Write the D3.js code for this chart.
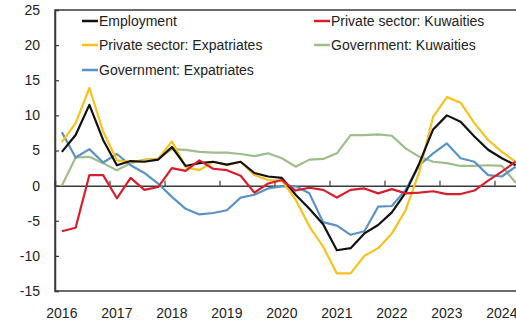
<!DOCTYPE html>
<html>
<head>
<meta charset="utf-8">
<script src="https://cdn.jsdelivr.net/npm/d3@7"></script>
<style>
  html, body { margin: 0; padding: 0; background: #fff; }
  svg { display: block; font-family: "Liberation Sans", Arial, sans-serif; }
</style>
</head>
<body>
<svg id="chart" width="516" height="322"></svg>
<script>
// Quarterly year-on-year growth, % (2016 Q1 – 2024 Q2)
const quarters = d3.range(34).map(i => `${2016 + Math.floor(i / 4)}Q${(i % 4) + 1}`);
const yearLabels = ["2016", "2017", "2018", "2019", "2020", "2021", "2022", "2023", "2024"];
const yTicks = [-15, -10, -5, 0, 5, 10, 15, 20, 25];

const employment = [4.8, 7.2, 11.5, 6.5, 2.9, 3.5, 3.4, 3.7, 5.5, 2.8, 3.2, 3.4, 3.0, 3.4, 1.8, 1.3, 1.1, -1.3, -3.3, -5.5, -9.2, -8.9, -6.8, -5.6, -3.8, -1.0, 3.2, 8.0, 10.0, 9.1, 7.0, 5.1, 3.9, 2.9];
const privateKuwaitis = [-6.5, -6.0, 1.5, 1.5, -1.8, 1.1, -0.6, -0.2, 2.5, 2.1, 3.6, 2.4, 2.2, 1.4, -1.0, 0.3, 0.8, -0.7, -0.3, -0.6, -1.7, -0.6, -0.4, -1.1, -0.5, -1.1, -1.0, -0.8, -1.2, -1.2, -0.7, 0.7, 2.0, 3.4];
const privateExpatriates = [6.2, 8.9, 13.9, 7.7, 3.6, 3.4, 3.6, 3.8, 6.3, 2.6, 2.2, 3.4, 2.9, 3.4, 1.5, 0.8, 0.7, -2.0, -5.8, -8.7, -12.5, -12.5, -10.0, -8.9, -6.8, -3.5, 2.0, 9.8, 12.6, 11.8, 8.9, 6.5, 4.8, 3.4];
const governmentKuwaitis = [0.0, 4.0, 4.1, 3.2, 2.2, 3.2, 3.7, 3.8, 5.2, 5.1, 4.8, 4.7, 4.7, 4.5, 4.2, 4.6, 3.9, 2.7, 3.7, 3.8, 4.6, 7.2, 7.2, 7.3, 7.1, 5.3, 4.1, 3.4, 3.2, 2.8, 2.8, 2.9, 2.8, 0.4];
const governmentExpatriates = [7.6, 4.0, 5.2, 3.3, 4.5, 2.9, 1.8, 0.3, -1.6, -3.3, -4.1, -3.9, -3.5, -1.7, -1.3, -0.4, -0.1, -0.1, -1.1, -5.2, -5.7, -7.0, -6.5, -3.0, -2.9, -0.6, 2.9, 4.6, 6.0, 3.9, 3.4, 1.5, 1.3, 2.7];

const series = [
  { name: "Employment", values: employment, color: "#111111" },
  { name: "Private sector: Kuwaities", values: privateKuwaitis, color: "#d81e2c" },
  { name: "Private sector: Expatriates", values: privateExpatriates, color: "#f6c21c" },
  { name: "Government: Kuwaities", values: governmentKuwaitis, color: "#9dbd8a" },
  { name: "Government: Expatriates", values: governmentExpatriates, color: "#5b92c6" }
];
// drawing order (back to front)
const drawOrder = ["Government: Kuwaities", "Government: Expatriates", "Private sector: Expatriates", "Employment", "Private sector: Kuwaities"];

(function draw() {
  const svg = d3.select("#chart");
  const plotLeft = 55, plotTop = 10, plotBottom = 291;
  const plotRight = plotLeft + 13.75 * quarters.length;

  const x = d3.scaleBand().domain(quarters).range([plotLeft, plotRight]);
  const y = d3.scaleLinear().domain([-15, 25]).range([plotBottom, plotTop]);
  const cx = q => x(q) + x.bandwidth() / 2;

  const axisColor = "#3a3a3a";

  // frame
  svg.append("rect")
    .attr("x", plotLeft).attr("y", plotTop)
    .attr("width", plotRight - plotLeft).attr("height", plotBottom - plotTop)
    .attr("fill", "none").attr("stroke", axisColor).attr("stroke-width", 1.5);

  // left value axis, ticks pointing inward
  const yAxis = svg.append("g")
    .attr("transform", `translate(${plotLeft},0)`)
    .call(d3.axisRight(y).tickValues(yTicks).tickSize(4).tickFormat(""));
  yAxis.select(".domain").attr("stroke", axisColor).attr("stroke-width", 1.5);
  yAxis.selectAll(".tick line").attr("stroke", axisColor).attr("stroke-width", 1.2);

  svg.append("g").selectAll("text")
    .data(yTicks).join("text")
    .attr("x", 40).attr("y", d => y(d))
    .attr("dy", "0.35em")
    .attr("text-anchor", "end")
    .attr("font-size", 14).attr("fill", "#222")
    .text(d => d);

  // zero line with year boundary ticks
  const yearStarts = quarters.filter((q, i) => i % 4 === 0);
  const zeroAxis = svg.append("g")
    .attr("transform", `translate(0,${y(0)})`)
    .call(d3.axisTop(x).tickValues(yearStarts).tickSize(5).tickFormat(""));
  zeroAxis.select(".domain").attr("stroke", axisColor).attr("stroke-width", 1.5);
  zeroAxis.selectAll(".tick").attr("transform", d => `translate(${x(d)},0)`);
  zeroAxis.selectAll(".tick line").attr("stroke", axisColor).attr("stroke-width", 1.2);

  // year labels under the plot
  svg.append("g").selectAll("text")
    .data(yearLabels).join("text")
    .attr("x", (d, i) => cx(quarters[i * 4]))
    .attr("y", 313)
    .attr("dy", "0.35em")
    .attr("text-anchor", "middle")
    .attr("font-size", 14).attr("fill", "#222")
    .text(d => d);

  // series lines
  const line = d3.line()
    .x((d, i) => cx(quarters[i]))
    .y(d => y(d));

  const byName = new Map(series.map(s => [s.name, s]));
  svg.append("g").selectAll("path")
    .data(drawOrder.map(n => byName.get(n))).join("path")
    .attr("d", s => line(s.values))
    .attr("fill", "none")
    .attr("stroke", s => s.color)
    .attr("stroke-width", 2.2)
    .attr("stroke-linejoin", "round");

  // legend
  const legendItems = [
    { name: "Employment", x: 82, y: 21 },
    { name: "Private sector: Kuwaities", x: 314, y: 21 },
    { name: "Private sector: Expatriates", x: 82, y: 45 },
    { name: "Government: Kuwaities", x: 314, y: 45 },
    { name: "Government: Expatriates", x: 82, y: 70 }
  ];
  const lg = svg.append("g").selectAll("g")
    .data(legendItems).join("g")
    .attr("transform", d => `translate(${d.x},${d.y})`);
  lg.append("line")
    .attr("x1", 0).attr("x2", 16).attr("y1", 0).attr("y2", 0)
    .attr("stroke", d => byName.get(d.name).color)
    .attr("stroke-width", 2.5);
  lg.append("text")
    .attr("x", 17).attr("y", 0).attr("dy", "0.35em")
    .attr("font-size", 14).attr("fill", "#222")
    .text(d => d.name);
})();
</script>
</body>
</html>
